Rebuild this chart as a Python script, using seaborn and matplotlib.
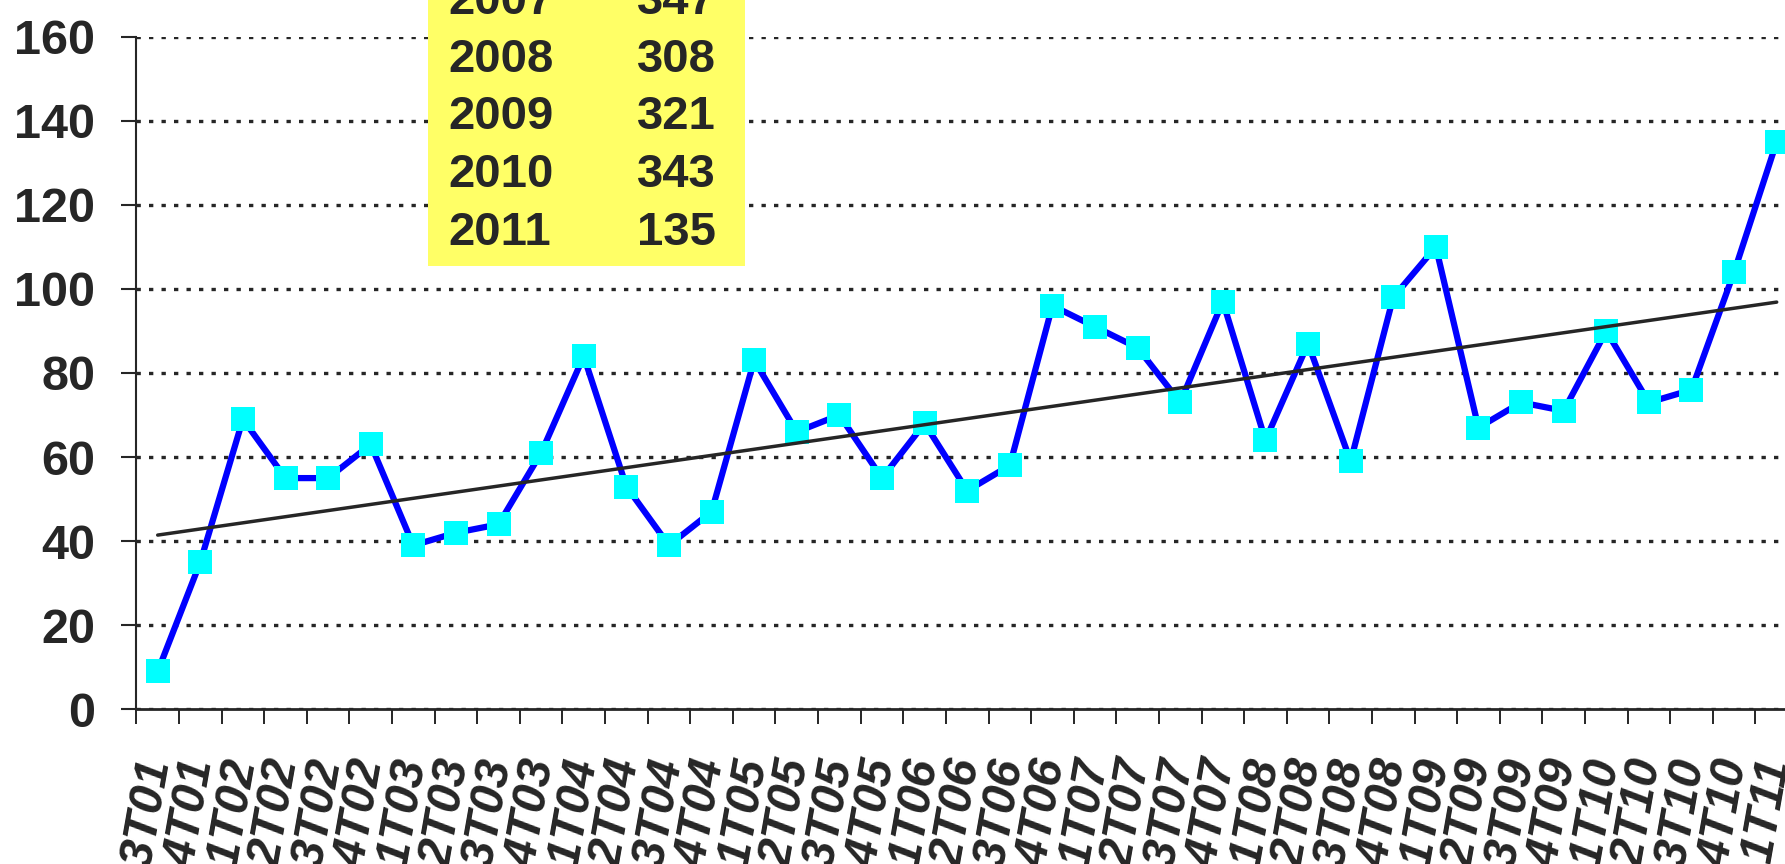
import numpy as np
import pandas as pd
import matplotlib
matplotlib.use("Agg")
import matplotlib.pyplot as plt
from matplotlib.patches import Rectangle
import seaborn as sns

quarters = ['3T01', '4T01',
            '1T02', '2T02', '3T02', '4T02',
            '1T03', '2T03', '3T03', '4T03',
            '1T04', '2T04', '3T04', '4T04',
            '1T05', '2T05', '3T05', '4T05',
            '1T06', '2T06', '3T06', '4T06',
            '1T07', '2T07', '3T07', '4T07',
            '1T08', '2T08', '3T08', '4T08',
            '1T09', '2T09', '3T09', '4T09',
            '1T10', '2T10', '3T10', '4T10',
            '1T11']
values = [9, 35,
          69, 55, 55, 63,
          39, 42, 44, 61,
          84, 53, 39, 47,
          83, 66, 70, 55,
          68, 52, 58, 96,
          91, 86, 73, 97,
          64, 87, 59, 98,
          110, 67, 73, 71,
          90, 73, 76, 104,
          135]
box_years = ['2007', '2008', '2009', '2010', '2011']
box_totals = [347, 308, 321, 343, 135]
y_ticks = [0, 20, 40, 60, 80, 100, 120, 140, 160]

sns.set_style("white")
plt.rcParams['font.family'] = ['Liberation Sans', 'DejaVu Sans']

TXT = '#262626'
W, H = 1785, 864

df = pd.DataFrame({'pos': np.arange(len(quarters)), 'quarter': quarters, 'value': values})

fig = plt.figure(figsize=(W / 100, H / 100), dpi=100)
ax = fig.add_axes([136.4 / W, 1 - 709.3 / H, (1798 - 136.4) / W, (709.3 - 36.7) / H])

sns.lineplot(data=df, x='pos', y='value', ax=ax, color='#0000FF', linewidth=4.5,
             marker='s', markersize=17.5, markerfacecolor='#00FFFF',
             markeredgecolor='#00FFFF', markeredgewidth=0, zorder=3)
sns.regplot(data=df, x='pos', y='value', ax=ax, scatter=False, ci=None, truncate=True,
            line_kws=dict(color=TXT, linewidth=2.5, zorder=4))

ax.set_xlim(-0.5, len(quarters) - 0.5)
ax.set_ylim(y_ticks[0], y_ticks[-1])
ax.set_xlabel('')
ax.set_ylabel('')

ax.set_yticks(y_ticks)
ax.set_yticklabels([str(v) for v in y_ticks], fontsize=35, fontweight='bold', color=TXT)
ax.tick_params(axis='y', length=11, width=1.5, pad=18.5, color=TXT, left=True)
ax.yaxis.grid(True, linestyle=(0, (1.3, 2.45)), linewidth=2.4, color=TXT)
ax.xaxis.grid(False)

ax.set_xticks(df['pos'])
ax.set_xticklabels(df['quarter'], fontsize=34.5, fontweight='bold', fontstyle='italic',
                   color=TXT, rotation=80, rotation_mode='anchor', ha='right', va='center')
ax.set_xticks(np.arange(-0.5, len(quarters), 1.0), minor=True)
ax.tick_params(axis='x', which='major', length=0, pad=36)
ax.tick_params(axis='x', which='minor', length=10.5, width=1.4, color=TXT, bottom=True)

for s in ['top', 'right']:
    ax.spines[s].set_visible(False)
ax.spines['left'].set_color(TXT)
ax.spines['left'].set_linewidth(1.5)
ax.spines['bottom'].set_color(TXT)
ax.spines['bottom'].set_linewidth(2.0)

# yellow totals box (partly outside the figure top)
fig.add_artist(Rectangle((428 / W, 1 - 266 / H), 317 / W, 0.6, transform=fig.transFigure,
                         facecolor='#FFFF66', edgecolor='none', zorder=5))
for i, (yr, tot) in enumerate(zip(box_years, box_totals)):
    yb = 14 + 57.7 * i
    fig.text(448 / W, 1 - yb / H, yr, ha='left', va='baseline', fontsize=34,
             fontweight='bold', color=TXT, zorder=6)
    fig.text(716 / W, 1 - yb / H, str(tot), ha='right', va='baseline', fontsize=34,
             fontweight='bold', color=TXT, zorder=6)

fig.savefig('out.png', dpi=100)
